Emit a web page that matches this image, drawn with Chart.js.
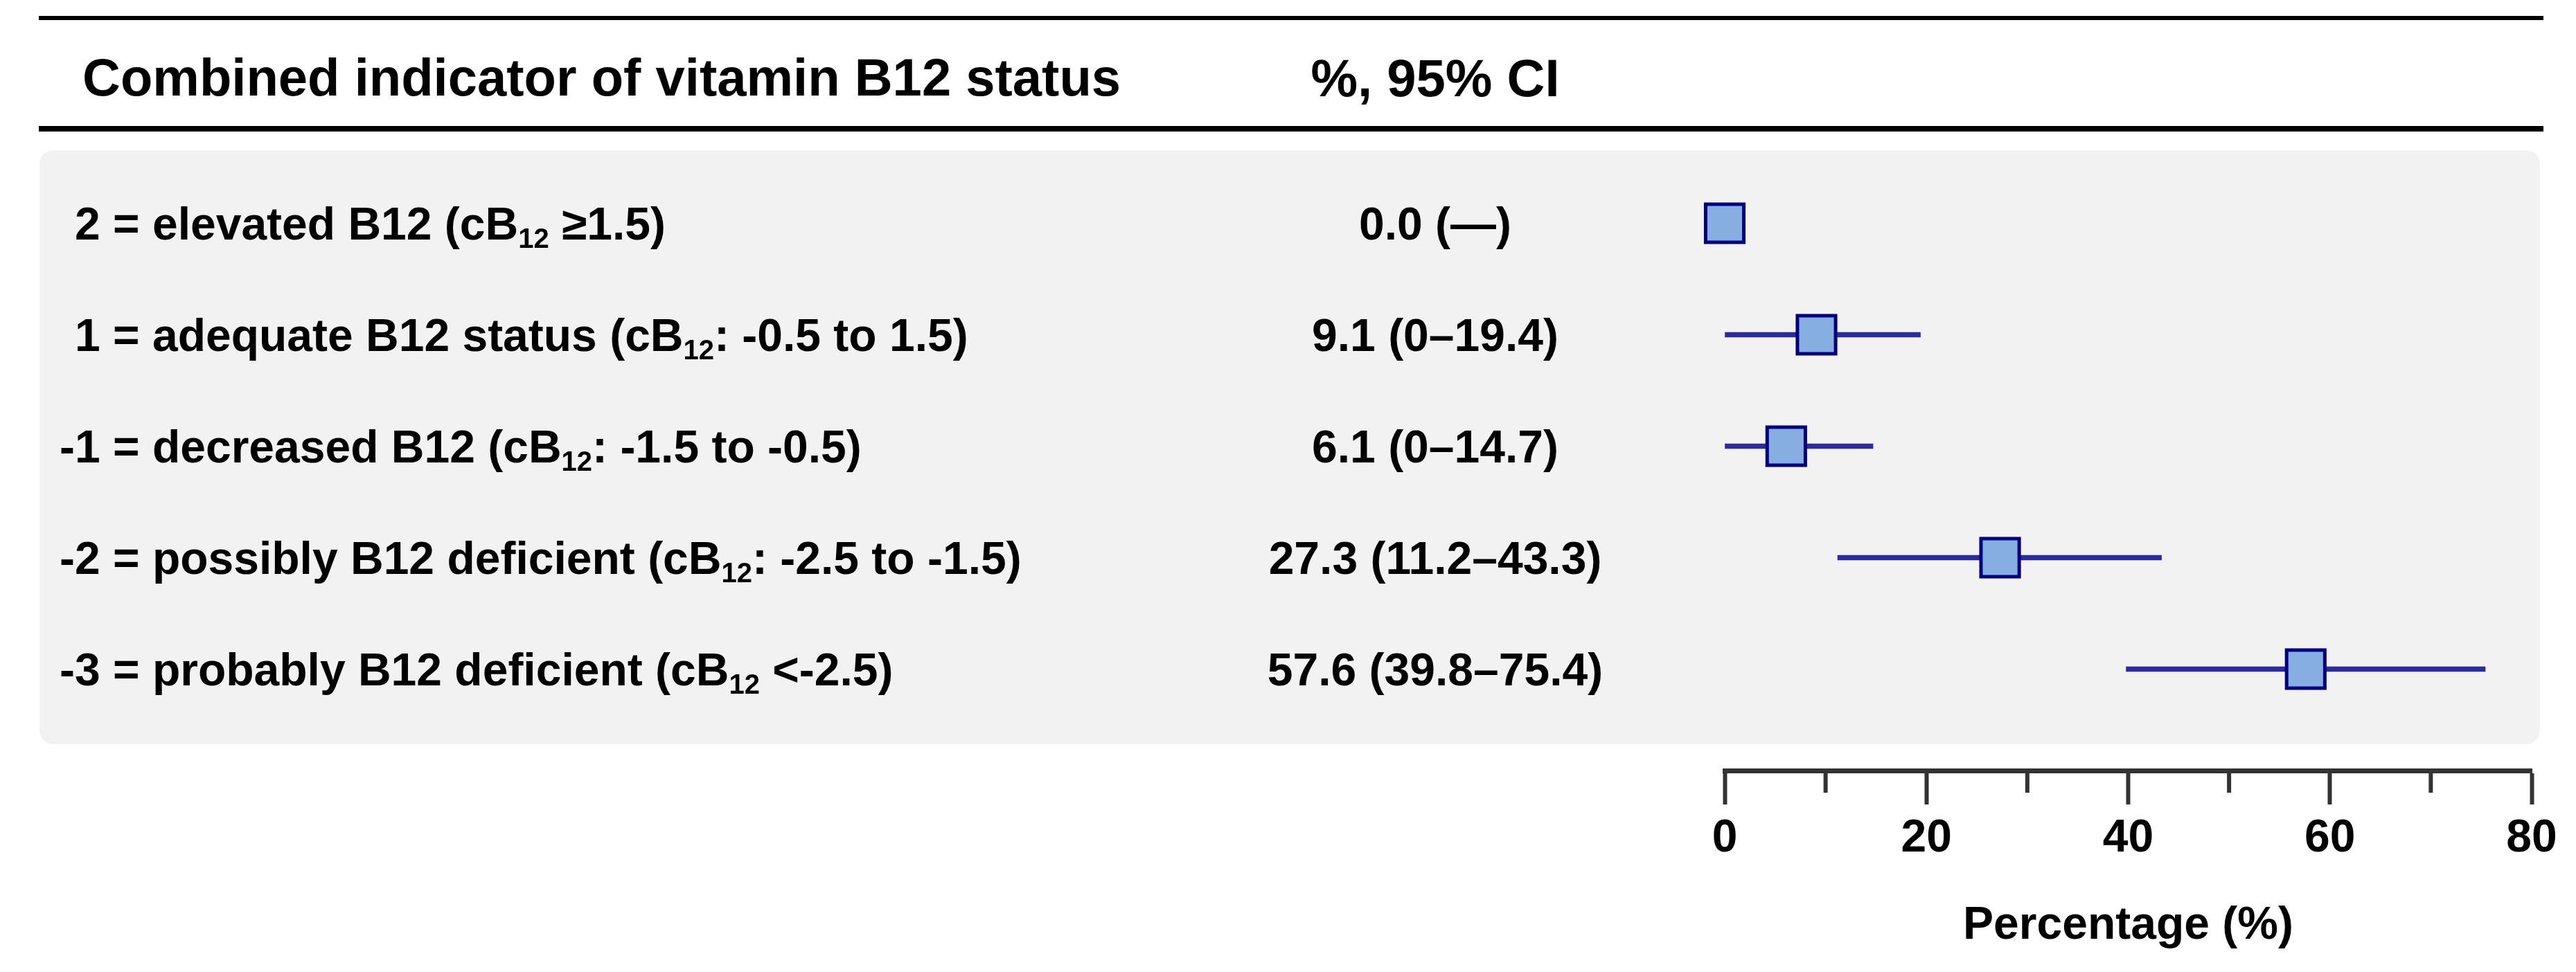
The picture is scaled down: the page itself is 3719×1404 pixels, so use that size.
<!DOCTYPE html>
<html>
<head>
<meta charset="utf-8">
<script src="https://cdn.jsdelivr.net/npm/chart.js@4.4.1/dist/chart.umd.min.js"></script>
<style>
  html, body { margin: 0; padding: 0; background: #fff; }
  canvas { display: block; }
</style>
</head>
<body>
<canvas id="forest" width="3719" height="1404" style="width:3719px;height:1404px"></canvas>
<script>
// 데이터 ------------------------------------------------
const headers = ['Combined indicator of vitamin B12 status', '%, 95% CI'];
const labelHeads = [
  '2 = elevated B12 (cB',
  '1 = adequate B12 status (cB',
  '-1 = decreased B12 (cB',
  '-2 = possibly B12 deficient (cB',
  '-3 = probably B12 deficient (cB'
];
const labelSub = '12';
const labelTails = [' \u22651.5)', ': -0.5 to 1.5)', ': -1.5 to -0.5)', ': -2.5 to -1.5)', ' <-2.5)'];
const estimates = [0.0, 9.1, 6.1, 27.3, 57.6];
const lowerCI = [null, 0, 0, 11.2, 39.8];
const upperCI = [null, 19.4, 14.7, 43.3, 75.4];
const xTicks = [0, 20, 40, 60, 80];
const minorTicks = [10, 30, 50, 70];
const axisTitle = 'Percentage (%)';

const FONT = '"Liberation Sans", Arial, Helvetica, sans-serif';

// 숫자 표시 (0은 그냥 0)
const fmt = v => v === 0 ? '0' : v.toFixed(1);
const ciText = i => lowerCI[i] === null
  ? estimates[i].toFixed(1) + ' (\u2014)'
  : estimates[i].toFixed(1) + ' (' + fmt(lowerCI[i]) + '\u2013' + fmt(upperCI[i]) + ')';

const points = estimates.map((v, i) => ({x: v, y: i}));
const bars = [];
estimates.forEach((v, i) => {
  if (lowerCI[i] !== null) bars.push({x: [lowerCI[i], upperCI[i]], y: i});
});

function roundRectPath(ctx, x, y, w, h, r) {
  ctx.beginPath();
  ctx.moveTo(x + r, y);
  ctx.lineTo(x + w - r, y);
  ctx.arcTo(x + w, y, x + w, y + r, r);
  ctx.lineTo(x + w, y + h - r);
  ctx.arcTo(x + w, y + h, x + w - r, y + h, r);
  ctx.lineTo(x + r, y + h);
  ctx.arcTo(x, y + h, x, y + h - r, r);
  ctx.lineTo(x, y + r);
  ctx.arcTo(x, y, x + r, y, r);
  ctx.closePath();
}

// 표 부분 (배경, 헤더, 행 라벨, 값)
const tablePlugin = {
  id: 'table',
  beforeDraw(chart) {
    const ctx = chart.ctx;
    ctx.save();
    ctx.fillStyle = '#ffffff';
    ctx.fillRect(0, 0, chart.width, chart.height);
    roundRectPath(ctx, 57, 217, 3610, 858, 20);
    ctx.fillStyle = '#f2f2f2';
    ctx.fill();
    ctx.fillStyle = '#000';
    ctx.fillRect(56, 23, 3616, 6);
    ctx.fillRect(56, 182, 3616, 8);
    ctx.restore();
  },
  afterDraw(chart) {
    const ctx = chart.ctx;
    const yScale = chart.scales.y;
    const xScale = chart.scales.x;
    ctx.save();
    ctx.fillStyle = '#000';
    ctx.textBaseline = 'alphabetic';

    ctx.font = 'bold 76px ' + FONT;
    ctx.textAlign = 'left';
    ctx.fillText(headers[0], 119, 138);
    ctx.textAlign = 'center';
    ctx.fillText(headers[1], 2072, 139);

    estimates.forEach((v, i) => {
      const base = yScale.getPixelForValue(i) + 24;
      ctx.font = 'bold 66px ' + FONT;
      ctx.textAlign = 'left';
      let x = 108;
      if (labelHeads[i].startsWith('-')) x -= ctx.measureText('-').width;
      ctx.fillText(labelHeads[i], x, base);
      x += ctx.measureText(labelHeads[i]).width;
      ctx.font = 'bold 40px ' + FONT;
      ctx.fillText(labelSub, x, base + 12);
      x += ctx.measureText(labelSub).width;
      ctx.font = 'bold 66px ' + FONT;
      ctx.fillText(labelTails[i], x, base);

      ctx.textAlign = 'center';
      ctx.fillText(ciText(i), 2072, base);
    });

    // 보조 눈금
    ctx.strokeStyle = '#333';
    ctx.lineWidth = 6;
    const top = chart.chartArea.bottom;
    minorTicks.forEach(t => {
      const px = xScale.getPixelForValue(t);
      ctx.beginPath();
      ctx.moveTo(px, top);
      ctx.lineTo(px, top + 32);
      ctx.stroke();
    });
    ctx.restore();
  }
};

const ctx = document.getElementById('forest').getContext('2d');
const forest = new Chart(ctx, {
  type: 'scatter',
  data: {
    datasets: [
      {
        label: 'estimate',
        data: points,
        order: 0,
        clip: false,
        pointStyle: 'rect',
        pointRadius: 39,
        pointHoverRadius: 39,
        borderWidth: 5,
        borderColor: '#000080',
        backgroundColor: '#87aee0'
      },
      {
        type: 'bar',
        label: '95% CI',
        indexAxis: 'y',
        data: bars,
        order: 1,
        barThickness: 7,
        borderWidth: 0,
        borderSkipped: false,
        backgroundColor: '#2b2b9e'
      }
    ]
  },
  plugins: [tablePlugin],
  options: {
    responsive: false,
    devicePixelRatio: 1,
    animation: false,
    layout: {
      padding: {left: 2490, right: 64, top: 242, bottom: 0}
    },
    plugins: {
      legend: {display: false},
      tooltip: {enabled: false}
    },
    scales: {
      x: {
        type: 'linear',
        position: 'bottom',
        min: 0,
        max: 80,
        afterBuildTicks: scale => { scale.ticks = xTicks.map(v => ({value: v})); },
        afterFit: scale => { scale.height = 291; },
        ticks: {
          color: '#000',
          padding: 10,
          font: {family: FONT, size: 66, weight: 'bold'}
        },
        grid: {
          display: true,
          drawOnChartArea: false,
          drawTicks: true,
          tickLength: 49,
          tickWidth: 6,
          tickColor: '#333'
        },
        border: {display: true, width: 7, color: '#333'},
        title: {
          display: true,
          text: axisTitle,
          color: '#000',
          font: {family: FONT, size: 66, weight: 'bold'},
          padding: {top: 0, bottom: 27}
        }
      },
      y: {
        type: 'linear',
        display: false,
        reverse: true,
        offset: false,
        min: -0.5,
        max: 4.91
      }
    }
  }
});
</script>
</body>
</html>
